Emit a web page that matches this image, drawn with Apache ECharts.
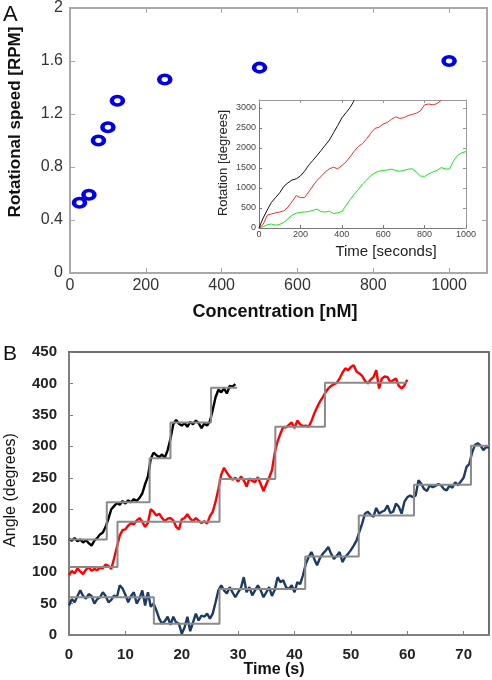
<!DOCTYPE html>
<html>
<head>
<meta charset="utf-8">
<script src="https://cdn.jsdelivr.net/npm/echarts@6/dist/echarts.min.js"></script>
<style>
html,body{margin:0;padding:0;background:#fff;}
#chart{width:492px;height:680px;}
</style>
</head>
<body>
<div id="chart"></div>
<script>
// ---------- Panel A: rotational speed vs concentration ----------
const aConcentration = [25, 50, 75, 100, 125, 250, 500, 1000];
const aSpeed = [0.53, 0.59, 1.00, 1.10, 1.30, 1.46, 1.55, 1.60];

// ---------- Inset: rotation vs time (sampled every 20 s) ----------
const insetStep = 20;
const insetBlack = [0, 250, 450, 640, 760, 880, 1040, 1130, 1200, 1230,
  1300, 1420, 1570, 1690, 1810, 1940, 2070, 2200, 2380, 2560,
  2750, 2880, 3010, 3190];
const insetRed = [0, 90, 320, 350, 380, 400, 430, 520, 660, 810,
  760, 760, 900, 1050, 1190, 1290, 1400, 1480, 1520, 1480,
  1560, 1650, 1780, 1920, 2040, 2110, 2230, 2370, 2490, 2520,
  2600, 2640, 2720, 2780, 2740, 2760, 2810, 2840, 2870, 2930,
  3080, 3100, 3080, 3110, 3190];
const insetGreen = [0, 30, 80, 100, 70, 90, 140, 230, 320, 370,
  390, 400, 410, 440, 470, 410, 400, 420, 360, 380,
  410, 560, 710, 840, 960, 1100, 1200, 1310, 1380, 1420,
  1440, 1450, 1470, 1440, 1420, 1440, 1470, 1480, 1400, 1300,
  1290, 1350, 1400, 1440, 1510, 1480, 1470, 1680, 1820, 1880,
  1910];

// ---------- Panel B: angle traces (sampled every 0.5 s) ----------
const bStep = 0.5;
const bBlack = [153,150,154,149,152,147,151,146,142,150,
  154,160,163,172,185,200,205,210,207,213,
  209,214,211,216,213,218,225,240,252,280,
  290,286,283,287,282,294,312,335,342,336,
  333,337,331,339,335,341,337,329,336,333,
  340,358,378,390,386,392,384,396,395,399];
const bRed = [95,102,98,106,101,97,104,108,102,105,
  103,107,106,112,110,105,122,140,158,167,
  168,174,178,176,182,186,180,172,178,200,
  196,190,193,186,181,185,186,182,172,168,
  184,186,192,185,181,186,182,178,181,177,
  189,196,212,232,255,266,258,252,247,250,
  244,252,246,236,249,245,243,251,240,229,
  240,250,262,290,308,320,331,330,334,338,
  329,341,335,332,333,331,340,352,362,371,
  378,386,392,396,399,401,408,417,424,421,
  426,429,419,416,412,404,400,406,410,421,
  392,408,411,410,402,405,408,396,392,397,
  406];
const bBlue = [47,57,52,62,71,62,58,65,62,50,
  57,60,68,62,52,56,63,60,79,74,
  64,52,62,68,50,58,71,47,68,45,
  50,39,26,18,22,29,16,29,20,18,
  2,12,29,6,20,34,23,31,29,34,
  26,34,52,71,79,71,66,76,68,60,
  68,75,92,68,76,63,71,79,71,60,
  68,76,62,72,92,84,87,76,73,79,
  68,84,81,95,113,124,132,121,111,122,
  129,134,140,129,121,126,132,116,124,129,
  135,142,150,164,177,193,196,191,188,202,
  193,196,198,206,194,196,209,204,193,212,
  219,222,219,222,246,240,232,229,238,235,
  237,240,238,232,230,238,234,243,238,244,
  250,267,272,290,302,305,301,294,299,298];

// Step fits: change times and levels
const fitBlackTimes = [0, 6.7, 14.3, 18.0, 25.2, 29.8];
const fitBlackLevels = [152, 211, 281, 338, 393, 393];
const fitRedTimes = [0, 8.6, 26.7, 36.6, 45.4, 59.9];
const fitRedLevels = [108, 180, 248, 331, 401, 401];
const fitBlueTimes = [0, 15.05, 26.7, 41.9, 51.4, 61.2, 71.3, 74.5];
const fitBlueLevels = [60, 18, 73, 125, 190, 239, 301, 301];

// Tick settings
const aXTicks = {min: 0, max: 1100, interval: 200};
const aYTicks = {min: 0, max: 2, interval: 0.4};
const insetXTicks = {min: 0, max: 1000, interval: 200};
const insetYTicks = {min: 0, max: 3200, interval: 500};
const bXTicks = {min: 0, max: 74.5, interval: 10};
const bYTicks = {min: 0, max: 450, interval: 50};

function sampled(arr, step) { return arr.map((v, i) => [i * step, v]); }
function pairs(xs, ys) { return xs.map((x, i) => [x, ys[i]]); }
function plain(v) { return String(+Number(v).toFixed(2)); }

const FONT = '"Liberation Sans", Arial, sans-serif';

function axis(base, o) {
  return Object.assign({
    type: 'value',
    splitLine: {show: false},
    axisLine: {show: true, onZero: false, lineStyle: {color: o.lineColor, width: o.lineWidth}},
    axisTick: {show: o.ticks !== false, inside: true, length: o.tickLen || 4, lineStyle: {color: o.lineColor, width: 1}},
    axisLabel: o.label ? Object.assign({fontFamily: FONT, showMaxLabel: false, formatter: plain}, o.label) : {show: false}
  }, base);
}

const chart = echarts.init(document.getElementById('chart'), null, {renderer: 'canvas'});

const option = {
  animation: false,
  backgroundColor: '#ffffff',
  grid: [
    {left: 70, top: 7, width: 417, height: 266, show: false},
    {left: 259, top: 100, width: 207, height: 128, show: true, backgroundColor: '#ffffff', borderWidth: 0},
    {left: 69, top: 352, width: 420, height: 283, show: false}
  ],
  xAxis: [
    axis(Object.assign({gridIndex: 0, position: 'bottom'}, aXTicks), {lineColor: '#a8a8a8', lineWidth: 2, tickLen: 5,
      label: {fontSize: 16, color: '#333', margin: 5}}),
    axis(Object.assign({gridIndex: 0, position: 'top'}, aXTicks), {lineColor: '#a8a8a8', lineWidth: 2, tickLen: 5}),
    axis(Object.assign({gridIndex: 1, position: 'bottom'}, insetXTicks), {lineColor: '#777', lineWidth: 1, tickLen: 3,
      label: {fontSize: 9, color: '#444', margin: 2, showMaxLabel: true}}),
    axis(Object.assign({gridIndex: 1, position: 'top'}, insetXTicks), {lineColor: '#999', lineWidth: 1, tickLen: 3}),
    axis(Object.assign({gridIndex: 2, position: 'bottom'}, bXTicks), {lineColor: '#808080', lineWidth: 2, tickLen: 4,
      label: {fontSize: 15, fontWeight: 'bold', color: '#222', margin: 12}}),
    axis(Object.assign({gridIndex: 2, position: 'top'}, bXTicks), {lineColor: '#707070', lineWidth: 2, ticks: false})
  ],
  yAxis: [
    axis(Object.assign({gridIndex: 0, position: 'left'}, aYTicks), {lineColor: '#a8a8a8', lineWidth: 2, tickLen: 5,
      label: {fontSize: 16, color: '#333', margin: 7, showMaxLabel: true}}),
    axis(Object.assign({gridIndex: 0, position: 'right'}, aYTicks), {lineColor: '#a8a8a8', lineWidth: 2, tickLen: 5}),
    axis(Object.assign({gridIndex: 1, position: 'left'}, insetYTicks), {lineColor: '#777', lineWidth: 1, tickLen: 3,
      label: {fontSize: 9, color: '#444', margin: 3}}),
    axis(Object.assign({gridIndex: 1, position: 'right'}, insetYTicks), {lineColor: '#999', lineWidth: 1, tickLen: 3}),
    axis(Object.assign({gridIndex: 2, position: 'left'}, bYTicks), {lineColor: '#808080', lineWidth: 2, tickLen: 4,
      label: {fontSize: 15, fontWeight: 'bold', color: '#222', margin: 12, showMaxLabel: true}}),
    axis(Object.assign({gridIndex: 2, position: 'right'}, bYTicks), {lineColor: '#707070', lineWidth: 2, ticks: false})
  ],
  series: [
    {
      type: 'scatter', xAxisIndex: 0, yAxisIndex: 0,
      data: pairs(aConcentration, aSpeed),
      symbol: 'circle', symbolSize: [11, 8.5],
      itemStyle: {color: 'rgba(0,0,0,0)', borderColor: '#0000e8', borderWidth: 4, opacity: 1},
      z: 3
    },
    {type: 'line', xAxisIndex: 2, yAxisIndex: 2, data: sampled(insetGreen, insetStep), showSymbol: false,
      lineStyle: {color: '#22dd22', width: 1}, clip: true, z: 4},
    {type: 'line', xAxisIndex: 2, yAxisIndex: 2, data: sampled(insetRed, insetStep), showSymbol: false,
      lineStyle: {color: '#e83030', width: 1}, clip: true, z: 4},
    {type: 'line', xAxisIndex: 2, yAxisIndex: 2, data: sampled(insetBlack, insetStep), showSymbol: false,
      lineStyle: {color: '#111', width: 1}, clip: true, z: 4},

    {type: 'line', xAxisIndex: 4, yAxisIndex: 4, data: sampled(bBlue, bStep), showSymbol: false,
      lineStyle: {color: '#1c3a63', width: 2.4}, z: 2},
    {type: 'line', xAxisIndex: 4, yAxisIndex: 4, data: sampled(bRed, bStep), showSymbol: false,
      lineStyle: {color: '#ff0000', width: 2.4}, z: 2},
    {type: 'line', xAxisIndex: 4, yAxisIndex: 4, data: sampled(bBlack, bStep), showSymbol: false,
      lineStyle: {color: '#000000', width: 2.4}, z: 2},
    {type: 'line', xAxisIndex: 4, yAxisIndex: 4, data: pairs(fitBlackTimes, fitBlackLevels), step: 'end', showSymbol: false,
      lineStyle: {color: '#8a8a8a', width: 2}, z: 3},
    {type: 'line', xAxisIndex: 4, yAxisIndex: 4, data: pairs(fitRedTimes, fitRedLevels), step: 'end', showSymbol: false,
      lineStyle: {color: '#8a8a8a', width: 2}, z: 3},
    {type: 'line', xAxisIndex: 4, yAxisIndex: 4, data: pairs(fitBlueTimes, fitBlueLevels), step: 'end', showSymbol: false,
      lineStyle: {color: '#8a8a8a', width: 2}, z: 3}
  ],
  graphic: [
    {type: 'text', left: 3, top: 4, style: {text: 'A', font: '22px ' + FONT, fill: '#111'}},
    {type: 'text', x: 15, y: 122, rotation: Math.PI / 2,
      style: {text: 'Rotational speed [RPM]', font: 'bold 17px ' + FONT, fill: '#111', align: 'center', verticalAlign: 'middle'}},
    {type: 'text', x: 275, y: 312,
      style: {text: 'Concentration [nM]', font: 'bold 18px ' + FONT, fill: '#111', align: 'center', verticalAlign: 'middle'}},
    {type: 'text', x: 223, y: 163, rotation: Math.PI / 2, z: 10,
      style: {text: 'Rotation [degrees]', font: '13px ' + FONT, fill: '#222', align: 'center', verticalAlign: 'middle'}},
    {type: 'text', x: 386, y: 252, z: 10,
      style: {text: 'Time [seconds]', font: '15px ' + FONT, fill: '#222', align: 'center', verticalAlign: 'middle'}},
    {type: 'text', left: 3, top: 344, style: {text: 'B', font: '21px ' + FONT, fill: '#111'}},
    {type: 'text', x: 11, y: 490, rotation: Math.PI / 2,
      style: {text: 'Angle (degrees)', font: '16px ' + FONT, fill: '#111', align: 'center', verticalAlign: 'middle'}},
    {type: 'text', x: 274, y: 670,
      style: {text: 'Time (s)', font: 'bold 16px ' + FONT, fill: '#111', align: 'center', verticalAlign: 'middle'}}
  ]
};
chart.setOption(option);
</script>
</body>
</html>
